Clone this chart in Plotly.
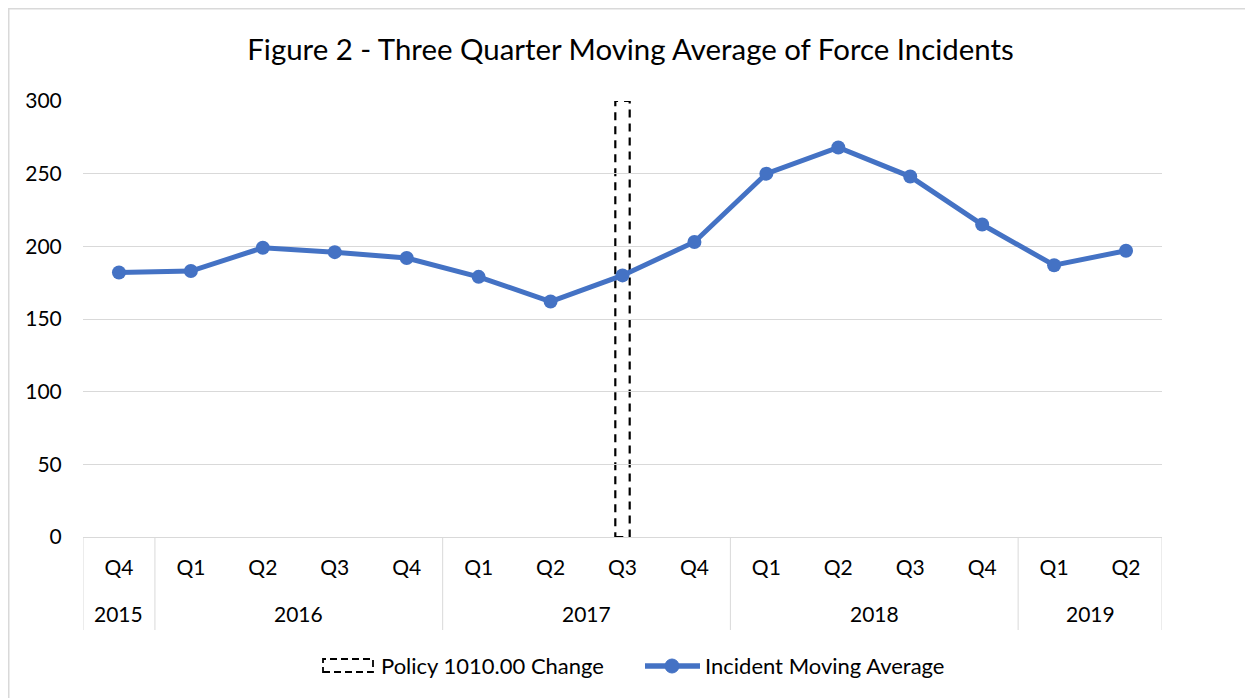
import plotly.graph_objects as go

years = ["2015", "2016", "2016", "2016", "2016", "2017", "2017", "2017", "2017",
         "2018", "2018", "2018", "2018", "2019", "2019"]
quarters = ["Q4", "Q1", "Q2", "Q3", "Q4", "Q1", "Q2", "Q3", "Q4",
            "Q1", "Q2", "Q3", "Q4", "Q1", "Q2"]
moving_avg = [182, 183, 199, 196, 192, 179, 162, 180, 203, 250, 268, 248, 215, 187, 197]
policy_year = "2017"
policy_quarter = "Q3"
policy_value = 300
series_names = ["Policy 1010.00 Change", "Incident Moving Average"]

FONT = "Lato"
BLUE = "#4472C4"
GRID = "#d9d9d9"

W, H = 1253, 698
ml, mr, mt, mb = 75, 99, 93, 169
pw, ph = W - ml - mr, H - mt - mb


def px(xf):
    return (xf - ml) / pw


def py(yf):
    return 1 - (yf - mt) / ph


keys = [f"{y} {q}" for y, q in zip(years, quarters)]
n = len(keys)

fig = go.Figure()
fig.add_trace(go.Scatter(
    x=keys, y=moving_avg, mode="lines+markers",
    name=series_names[1],
    line=dict(color=BLUE, width=5),
    marker=dict(color=BLUE, size=14),
    showlegend=False,
))

# policy change box at its quarter
idx = keys.index(f"{policy_year} {policy_quarter}")
half = 0.1
fig.add_shape(
    type="rect", xref="x", yref="y",
    x0=idx - half, x1=idx + half, y0=0, y1=policy_value,
    line=dict(color="black", width=2.2, dash="8px,6px"),
    fillcolor="rgba(0,0,0,0)", layer="below",
)

# year group labels and dividers
groups = []
for i, y in enumerate(years):
    if not groups or groups[-1][0] != y:
        groups.append([y, i, i])
    else:
        groups[-1][2] = i
for y, a, b in groups:
    fig.add_annotation(
        xref="x", yref="paper", x=(a + b) / 2, y=py(605), xanchor="center", yanchor="middle",
        text=y, showarrow=False, font=dict(family=FONT, size=21, color="#000000"),
    )
bounds = sorted({a - 0.5 for _, a, _ in groups} | {n - 0.5})
for bx in bounds:
    fig.add_shape(
        type="line", xref="x", yref="paper", x0=bx, x1=bx, y0=0, y1=py(622),
        line=dict(color=GRID, width=1),
    )

# legend: policy item (dashed box + label)
fig.add_shape(
    type="rect", xref="paper", yref="paper",
    x0=px(315), x1=px(365), y0=py(664), y1=py(651),
    line=dict(color="black", width=1.8, dash="7px,4px"), fillcolor="rgba(0,0,0,0)",
)
fig.add_annotation(
    xref="paper", yref="paper", x=px(371), y=py(657), xanchor="left", yanchor="middle",
    text=series_names[0], showarrow=False, font=dict(family=FONT, size=22, color="#000000"),
)
# legend: line item
fig.add_shape(
    type="line", xref="paper", yref="paper", x0=px(637), x1=px(692), y0=py(658), y1=py(658),
    line=dict(color=BLUE, width=5.5),
)
fig.add_shape(
    type="circle", xref="paper", yref="paper", x0=px(657), x1=px(671), y0=py(665), y1=py(651),
    line=dict(color=BLUE, width=1), fillcolor=BLUE,
)
fig.add_annotation(
    xref="paper", yref="paper", x=px(695), y=py(657), xanchor="left", yanchor="middle",
    text=series_names[1], showarrow=False, font=dict(family=FONT, size=22, color="#000000"),
)

# chart area border
fig.add_shape(
    type="rect", xref="paper", yref="paper",
    x0=px(0.5), x1=px(W + 5), y0=py(H + 5), y1=py(0.5),
    line=dict(color=GRID, width=2), fillcolor="rgba(0,0,0,0)", layer="above",
)

fig.update_layout(
    width=W, height=H,
    margin=dict(l=ml, r=mr, t=mt, b=mb),
    paper_bgcolor="white", plot_bgcolor="white",
    font=dict(family=FONT, size=21, color="#000000"),
    title=dict(text="Figure 2 - Three Quarter Moving Average of Force Incidents",
               x=622.5 / W, xanchor="center", xref="container", y=1 - 42 / H, yanchor="middle",
               font=dict(family=FONT, size=29.4, color="#000000")),
    showlegend=False,
    xaxis=dict(
        type="category", showgrid=False, showline=True, linecolor=GRID, linewidth=1,
        tickmode="array", tickvals=keys, ticktext=quarters,
        ticks="outside", ticklen=12, tickcolor="rgba(0,0,0,0)",
        tickfont=dict(family=FONT, size=21, color="#000000"),
        range=[-0.5, n - 0.5],
    ),
    yaxis=dict(
        range=[0, 300], dtick=50, showgrid=True, gridcolor=GRID, gridwidth=1,
        zeroline=False, ticks="outside", ticklen=16, tickcolor="rgba(0,0,0,0)",
        tickfont=dict(family=FONT, size=21, color="#000000"),
    ),
)

fig.write_html("out.html")
